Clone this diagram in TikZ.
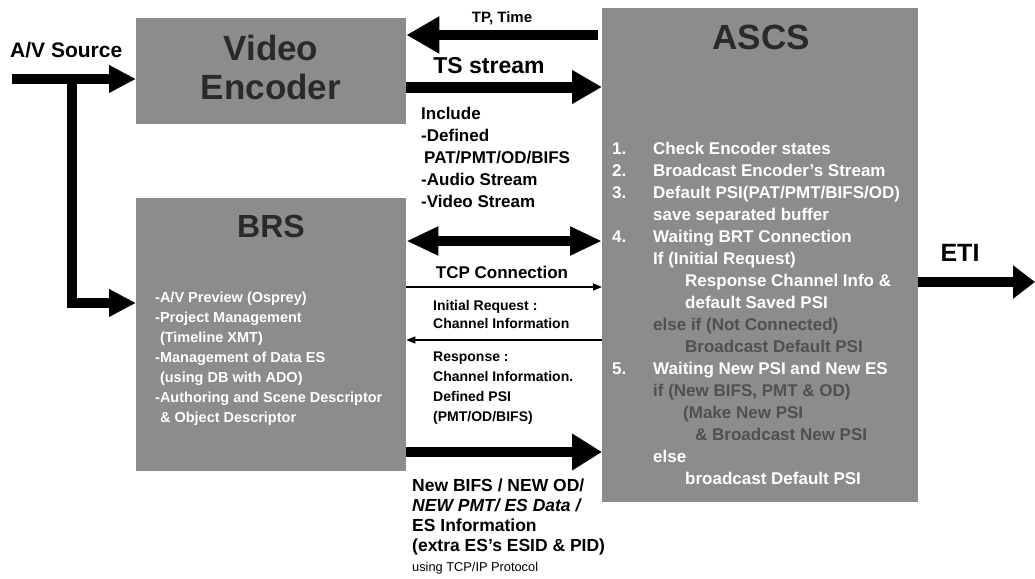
\documentclass[tikz,border=0pt]{standalone}
\usepackage{fontspec}
\setmainfont{Liberation Sans}
\usetikzlibrary{arrows.meta}
\definecolor{boxgray}{HTML}{8C8C8C}
\definecolor{titlegray}{HTML}{2A2A2A}
\definecolor{faint}{HTML}{505050}
\newcommand{\fsz}[2]{\fontsize{#1}{#2}\selectfont}
\begin{document}
\begin{tikzpicture}[x=1pt,y=-1pt,
  blk/.style={fill=boxgray, draw=none, inner sep=0, anchor=north west},
  thk/.style={line width=10pt, -{Triangle[length=30pt,width=32pt]}},
  thn/.style={line width=1.4pt, -{Triangle[length=9pt,width=7pt]}},
  ttl/.style={text=titlegray, font=\bfseries\fsz{35}{39}, align=center, inner sep=0},
  lbl/.style={inner sep=0, font=\bfseries}]
\useasboundingbox (0,0) rectangle (1035,578);
\fill[white] (0,0) rectangle (1035,578);

% boxes
\node[blk, minimum width=270pt, minimum height=106pt] (ve) at (136,18) {};
\node[blk, minimum width=270pt, minimum height=273pt] (brs) at (136,198) {};
\node[blk, minimum width=316pt, minimum height=494pt] (ascs) at (602,8) {};

% titles
\node[ttl] (vet) at (271,67) {Video\\Encoder};
\node[ttl, font=\bfseries\fsz{32}{36}] (brst) at (271,226) {BRS};
\node[ttl] (ascst) at (761,37) {ASCS};

% BRS list
\node[lbl, anchor=north west, align=left, text=white, font=\bfseries\fsz{14.5}{20}] (brsl) at (155,292)
 {-A/V Preview (Osprey)\\-Project Management\\\phantom{-}(Timeline XMT)\\-Management of Data ES\\\phantom{-}(using DB with ADO)\\-Authoring and Scene Descriptor\\\phantom{-}\& Object Descriptor};

% ASCS list
\node[lbl, anchor=north west, text=white, font=\bfseries\fsz{17}{22}] (ascsl) at (612,139)
 {\begin{tabular}{@{}p{41pt}@{}l@{}}
 1. & Check Encoder states\\
 2. & Broadcast Encoder's Stream\\
 3. & Default PSI(PAT/PMT/BIFS/OD)\\
    & save separated buffer\\
 4. & Waiting BRT Connection\\
    & If (Initial Request)\\
    & \hspace{32pt}Response Channel Info \&\\
    & \hspace{32pt}default Saved PSI\\
    & {\color{faint}else if (Not Connected)}\\
    & \hspace{32pt}{\color{faint}Broadcast Default PSI}\\
 5. & Waiting New PSI and New ES\\
    & {\color{faint}if (New BIFS, PMT \& OD)}\\
    & \hspace{30pt}{\color{faint}(Make New PSI}\\
    & \hspace{42pt}{\color{faint}\& Broadcast New PSI}\\
    & else\\
    & \hspace{32pt}broadcast Default PSI
 \end{tabular}};

% labels
\node[lbl, anchor=west, font=\bfseries\fsz{21}{24}] (avl) at (10,50) {A/V Source};
\node[lbl, font=\bfseries\fsz{15}{18}] (tpl) at (502,18) {TP, Time};
\node[lbl, font=\bfseries\fsz{23}{28}] (tsl) at (489,66) {TS stream};
\node[lbl, anchor=north west, align=left, font=\bfseries\fsz{17}{22}] (incl) at (421,107)
 {Include\\-Defined\\\hspace{3pt}PAT/PMT/OD/BIFS\\-Audio Stream\\-Video Stream};
\node[lbl, font=\bfseries\fsz{17}{20}] (tcpl) at (502,272) {TCP Connection};
\node[lbl, anchor=north west, align=left, font=\bfseries\fsz{14}{18}] (reql) at (433,300)
 {Initial Request :\\Channel Information};
\node[lbl, anchor=north west, align=left, font=\bfseries\fsz{14}{20}] (respl) at (433,352)
 {Response :\\Channel Information.\\Defined PSI\\(PMT/OD/BIFS)};
\node[lbl, anchor=north west, align=left, font=\bfseries\fsz{17.5}{20}] (newl) at (412,479)
 {New BIFS / NEW OD/\\{\itshape NEW PMT/ ES Data /}\\ES Information\\(extra ES's ESID \& PID)\\{\mdseries\fsz{12.8}{20}using TCP/IP Protocol}};
\node[lbl, font=\bfseries\fsz{25}{28}] (etil) at (960,253) {ETI};

% connectors
\coordinate (avs) at (12,79);
\coordinate (avj) at (72,79);
\coordinate (etiend) at (1035,282);
\draw[thk, -{Triangle[length=27pt,width=26pt]}] (avs) -- (ve.west |- avs);
\draw[thk, -{Triangle[length=27pt,width=26pt]}] (avj) |- (brs.west |- 0,303);
\draw[thk, -{Triangle[length=33pt,width=35pt]}, shorten <=4pt] (ascs.west |- 0,35) -- (ve.east |- 0,35);
\draw[thk, line width=11pt, -{Triangle[length=30pt,width=32pt]}] (ve.east |- 0,87) -- (ascs.west |- 0,87);
\draw[line width=10pt, {Triangle[length=32pt,width=27pt]}-{Triangle[length=32pt,width=27pt]}] (brs.east |- 0,241) -- (ascs.west |- 0,241);
\draw[thn] (brs.east |- 0,287) -- (ascs.west |- 0,287);
\draw[thn] (ascs.west |- 0,340) -- (brs.east |- 0,340);
\draw[thk, -{Triangle[length=30pt,width=35pt]}] (brs.east |- 0,452) -- (ascs.west |- 0,452);
\draw[thk, -{Triangle[length=22pt,width=32pt]}] (ascs.east |- etiend) -- (etiend);
\end{tikzpicture}
\end{document}
